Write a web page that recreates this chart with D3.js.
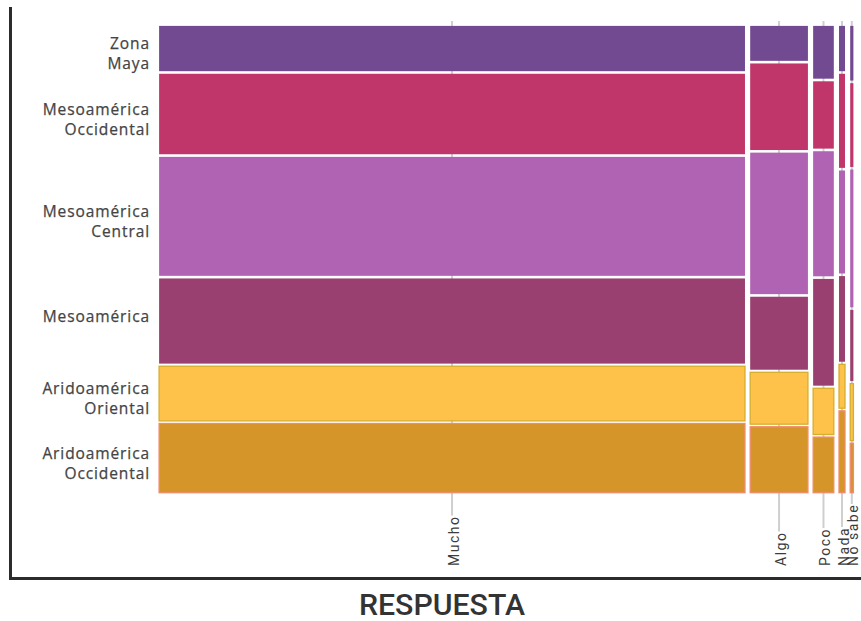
<!DOCTYPE html>
<html>
<head>
<meta charset="utf-8">
<script src="https://cdn.jsdelivr.net/npm/d3@7"></script>
<style>
  body { margin: 0; background: #fff; }
  svg { display: block; }
</style>
</head>
<body>
<div id="chart"></div>
<script>
// respuestas (eje x) y su peso en %
var respuestas = ["Mucho", "Algo", "Poco", "Nada", "No sabe"];
var respuestaPct = [84.5, 9.0, 3.7, 1.6, 1.2];

// regiones (eje y)
var regiones = ["Zona Maya", "Mesoamérica Occidental", "Mesoamérica Central", "Mesoamérica", "Aridoamérica Oriental", "Aridoamérica Occidental"];
var regionLineas = [["Zona", "Maya"], ["Mesoamérica", "Occidental"], ["Mesoamérica", "Central"], ["Mesoamérica"], ["Aridoamérica", "Oriental"], ["Aridoamérica", "Occidental"]];

// % de cada región dentro de cada respuesta
var muchoPct = [10.2, 17.7, 25.9, 18.7, 12.2, 15.3];
var algoPct = [8.0, 19.0, 30.7, 16.1, 11.6, 14.6];
var pocoPct = [11.8, 14.9, 27.2, 23.3, 10.4, 12.4];
var nadaPct = [10.2, 20.6, 22.5, 18.8, 9.9, 18.0];
var noSabePct = [12.2, 18.4, 29.9, 15.7, 12.7, 11.1];
var columnas = [muchoPct, algoPct, pocoPct, nadaPct, noSabePct];

var colorFill = ["#724a92", "#c0366b", "#b062b3", "#9a4070", "#fec24a", "#d59528"];
var colorStroke = ["none", "none", "none", "none", "#d6ae2e", "#f08c6c"];

var width = 861, height = 621;

var svg = d3.select("#chart")
    .append("svg")
    .attr("width", width)
    .attr("height", height);

var x = d3.scaleLinear().domain([0, 100]).range([156.5, 856]);
var y = d3.scaleLinear().domain([0, 100]).range([24.6, 494]);

// armar celdas
var celdas = [];
var acumX = 0;
respuestas.forEach(function (r, i) {
    var acumY = 0;
    columnas[i].forEach(function (v, j) {
        celdas.push({
            respuesta: r,
            region: j,
            x0: acumX, x1: acumX + respuestaPct[i],
            y0: acumY, y1: acumY + v
        });
        acumY += v;
    });
    acumX += respuestaPct[i];
});

// ticks verticales (detrás de las celdas)
var cortes = d3.cumsum(respuestaPct);
var centros = respuestas.map(function (r, i) {
    return x(cortes[i] - respuestaPct[i] / 2);
});

var ticks = svg.append("g");
var labels = svg.append("g");

labels.selectAll("text")
    .data(respuestas)
    .enter().append("text")
    .attr("transform", function (d, i) {
        return "translate(" + (centros[i] + 6.5) + ",566) rotate(-90)";
    })
    .attr("text-anchor", "start")
    .attr("font-family", "Roboto, sans-serif")
    .attr("font-size", 14)
    .attr("letter-spacing", 1.5)
    .attr("fill", "#3c3c3c")
    .text(function (d) { return d; });

labels.selectAll("text").each(function (d, i) {
    var len = this.getComputedTextLength();
    ticks.append("line")
        .attr("x1", centros[i]).attr("x2", centros[i])
        .attr("y1", 21)
        .attr("y2", 566 - len)
        .attr("stroke", "#cfcfcf")
        .attr("stroke-width", 2);
});

// celdas
svg.append("g")
    .selectAll("rect")
    .data(celdas)
    .enter().append("rect")
    .attr("x", function (d) { return x(d.x0) + 2.6; })
    .attr("y", function (d) { return y(d.y0) + 1.3; })
    .attr("width", function (d) { return Math.max(0.5, x(d.x1) - x(d.x0) - 5.2); })
    .attr("height", function (d) { return y(d.y1) - y(d.y0) - 2.6; })
    .attr("fill", function (d) { return colorFill[d.region]; })
    .attr("stroke", function (d) { return colorStroke[d.region]; })
    .attr("stroke-width", 1.3);

// etiquetas de región, centradas en la columna "Mucho"
var etiquetas = svg.append("g")
    .selectAll("text")
    .data(regiones)
    .enter().append("text")
    .attr("text-anchor", "end")
    .attr("font-family", "'Open Sans', sans-serif")
    .attr("font-size", 15.5)
    .attr("letter-spacing", 0.9)
    .attr("stroke", "#444")
    .attr("stroke-width", 0.25)
    .attr("fill", "#444")
    .attr("y", function (d, j) { return y(celdas[j].y0 + (celdas[j].y1 - celdas[j].y0) / 2) + 0.5; });

etiquetas.each(function (d, j) {
    var t = d3.select(this);
    var cy = +t.attr("y");
    regionLineas[j].forEach(function (linea, k) {
        t.append("tspan")
            .attr("x", 150)
            .attr("y", cy + k * 20)
            .text(linea);
    });
});

// marco
svg.append("line")
    .attr("x1", 10.5).attr("x2", 10.5)
    .attr("y1", 7).attr("y2", 579.5)
    .attr("stroke", "#2b2b2b").attr("stroke-width", 3);
svg.append("line")
    .attr("x1", 9).attr("x2", 861)
    .attr("y1", 578.5).attr("y2", 578.5)
    .attr("stroke", "#2b2b2b").attr("stroke-width", 3);

// título eje x
svg.append("text")
    .attr("x", 359)
    .attr("y", 615)
    .attr("font-family", "Roboto, sans-serif")
    .attr("font-size", 29)
    .attr("font-weight", 500)
    .attr("textLength", 166)
    .attr("lengthAdjust", "spacingAndGlyphs")
    .attr("fill", "#333")
    .text("RESPUESTA");
</script>
</body>
</html>
